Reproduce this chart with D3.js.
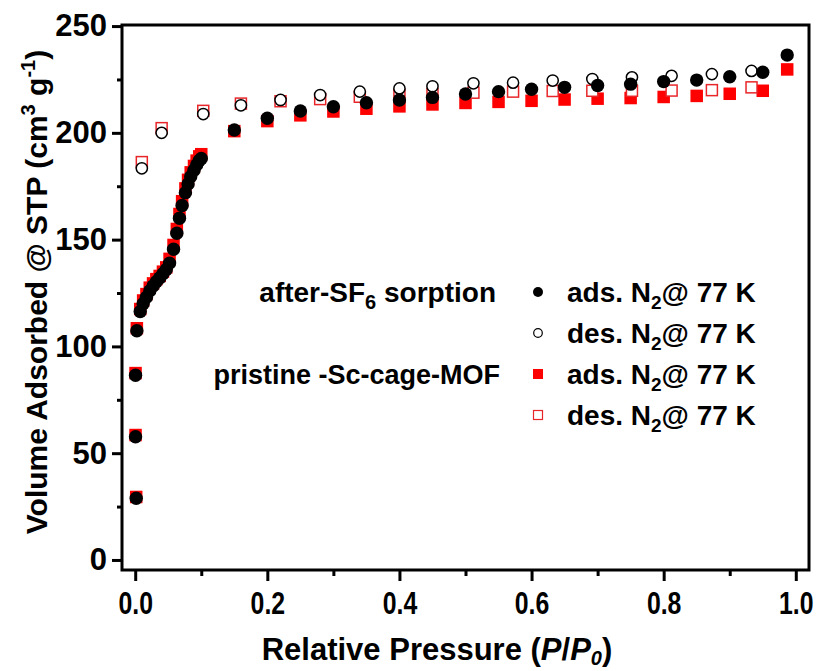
<!DOCTYPE html>
<html>
<head>
<meta charset="utf-8">
<script src="https://cdn.jsdelivr.net/npm/d3@7"></script>
<style>
  body { margin: 0; background: #fff; }
  svg { font-family: "Liberation Sans", Arial, sans-serif; font-weight: bold; }
</style>
</head>
<body>
<svg></svg>
<script>
var width = 818,
    height = 671;

var svg = d3.select("svg")
    .attr("width", width)
    .attr("height", height);

// after-SF6 sorption, adsorption branch (filled black circles)
var afterAdsP = [0.0015, 0.0005, 0.0005, 0.0025, 0.0076, 0.012, 0.017, 0.022, 0.027, 0.032,
                 0.037, 0.042, 0.047, 0.052, 0.058, 0.063, 0.067, 0.071, 0.076, 0.080,
                 0.084, 0.089, 0.093, 0.097, 0.100, 0.15, 0.20, 0.25, 0.30, 0.35,
                 0.40, 0.45, 0.50, 0.55, 0.60, 0.65, 0.70, 0.75, 0.80, 0.85,
                 0.90, 0.95, 0.987];
var afterAdsV = [28.9, 57.7, 86.5, 107.3, 116.3, 120, 123, 126, 128.3, 130.3,
                 132, 134, 136, 139, 145.5, 153, 160, 166, 172, 176,
                 179.5, 182.5, 185, 187, 188, 201.3, 206.8, 210.2, 212.2, 214.1,
                 215.4, 216.6, 218.2, 219.3, 220.4, 221.3, 222.2, 222.8, 224, 224.7,
                 226.3, 228.4, 236.4];

// after-SF6 sorption, desorption branch (open black circles)
var afterDesP = [0.933, 0.873, 0.812, 0.752, 0.692, 0.632, 0.572, 0.512, 0.45, 0.40,
                 0.34, 0.28, 0.22, 0.16, 0.103, 0.04, 0.01];
var afterDesV = [229, 227.5, 226.7, 226, 225.2, 224.5, 223.5, 223.2, 221.8, 220.8,
                 219.3, 217.7, 215.4, 212.9, 208.8, 200, 183.4];

// pristine Sc-cage-MOF, adsorption branch (filled red squares)
var pristAdsP = afterAdsP;
var pristAdsV = [29.5, 58.5, 87.5, 108.5, 117.5, 121.5, 124.5, 127.5, 129.5, 131.5,
                 133, 135, 137, 141, 147.5, 155, 162, 168, 174, 178,
                 181.5, 184.5, 187, 189, 190, 200.8, 205.5, 208.2, 210, 211.3,
                 212.4, 213.3, 214, 214.5, 215, 215.6, 216, 216.3, 216.8, 217.3,
                 218.3, 219.7, 229.7];

// pristine Sc-cage-MOF, desorption branch (open red squares)
var pristDesP = [0.933, 0.873, 0.812, 0.752, 0.692, 0.632, 0.572, 0.512, 0.45, 0.40,
                 0.34, 0.28, 0.22, 0.16, 0.103, 0.04, 0.01];
var pristDesV = [221.3, 220, 219.8, 219.7, 219.7, 219.6, 219.3, 218.8, 218.3, 217.8,
                 216.9, 215.8, 214.8, 213.7, 210.3, 202.2, 186.3];

var xTicks = [0, 0.2, 0.4, 0.6, 0.8, 1.0];
var xMinor = [0.1, 0.3, 0.5, 0.7, 0.9];
var yTicks = [0, 50, 100, 150, 200, 250];
var yMinor = [25, 75, 125, 175, 225];

var plotLeft = 122, plotRight = 809, plotTop = 25, plotBottom = 570;

var x = d3.scaleLinear().domain([-0.02, 1.02]).range([plotLeft, plotRight]);
var y = d3.scaleLinear().domain([-4.7, 250.5]).range([plotBottom, plotTop]);

function zip(ps, vs) {
  return ps.map(function (p, i) { return { p: p, v: vs[i] }; });
}

// frame
svg.append("rect")
    .attr("x", plotLeft).attr("y", plotTop)
    .attr("width", plotRight - plotLeft).attr("height", plotBottom - plotTop)
    .attr("fill", "none").attr("stroke", "#000").attr("stroke-width", 3);

// axes
var gx = svg.append("g")
    .attr("transform", "translate(0," + plotBottom + ")")
    .call(d3.axisBottom(x).tickValues(xTicks).tickSize(11).tickPadding(11)
      .tickFormat(d3.format(".1f")));
svg.append("g")
    .attr("transform", "translate(0," + plotBottom + ")")
    .call(d3.axisBottom(x).tickValues(xMinor).tickSize(6).tickFormat(""));

var gy = svg.append("g")
    .attr("transform", "translate(" + plotLeft + ",0)")
    .call(d3.axisLeft(y).tickValues(yTicks).tickSize(10).tickPadding(5));
svg.append("g")
    .attr("transform", "translate(" + plotLeft + ",0)")
    .call(d3.axisLeft(y).tickValues(yMinor).tickSize(5).tickFormat(""));

svg.selectAll(".domain").remove();
svg.selectAll(".tick line").attr("stroke", "#000").attr("stroke-width", 3);
svg.selectAll(".tick text")
    .attr("fill", "#000")
    .style("font-size", "31px")
    .style("font-family", "'Liberation Sans', Arial, sans-serif")
    .style("font-weight", "bold");
// the x tick labels are drawn narrower in the reference
gx.selectAll(".tick text").attr("transform", "scale(0.8,1)");

// axis titles
var xt = svg.append("text")
    .attr("x", 437).attr("y", 660)
    .attr("text-anchor", "middle")
    .style("font-size", "31px");
xt.append("tspan").text("Relative Pressure (");
xt.append("tspan").style("font-style", "italic").text("P");
xt.append("tspan").text("/");
xt.append("tspan").style("font-style", "italic").text("P");
xt.append("tspan").style("font-style", "italic").style("font-size", "20px")
    .attr("dy", 5).text("0");
xt.append("tspan").attr("dy", -5).text(")");

var yt = svg.append("text")
    .attr("transform", "translate(47,292) rotate(-90)")
    .attr("text-anchor", "middle")
    .style("font-size", "30px");
yt.append("tspan").text("Volume Adsorbed @ STP (cm");
yt.append("tspan").style("font-size", "20px").attr("dy", -12).text("3");
yt.append("tspan").attr("dy", 12).text(" g");
yt.append("tspan").style("font-size", "20px").attr("dy", -12).text("-1");
yt.append("tspan").attr("dy", 12).text(")");

// data marks: red filled squares, red open squares, open circles, filled circles
var sq = 12.5;
svg.append("g").selectAll("rect")
    .data(zip(pristAdsP, pristAdsV))
  .enter().append("rect")
    .attr("x", function(d) { return x(d.p) - sq / 2; })
    .attr("y", function(d) { return y(d.v) - sq / 2; })
    .attr("width", sq).attr("height", sq)
    .attr("fill", "#ff0000");

svg.append("g").selectAll("rect")
    .data(zip(pristDesP, pristDesV))
  .enter().append("rect")
    .attr("x", function(d) { return x(d.p) - (sq - 1.5) / 2; })
    .attr("y", function(d) { return y(d.v) - (sq - 1.5) / 2; })
    .attr("width", sq - 1.5).attr("height", sq - 1.5)
    .attr("fill", "#fff").attr("stroke", "#e8262a").attr("stroke-width", 1.5);

svg.append("g").selectAll("circle")
    .data(zip(afterDesP, afterDesV))
  .enter().append("circle")
    .attr("cx", function(d) { return x(d.p); })
    .attr("cy", function(d) { return y(d.v); })
    .attr("r", 5.6)
    .attr("fill", "#fff").attr("stroke", "#000").attr("stroke-width", 1.5);

svg.append("g").selectAll("circle")
    .data(zip(afterAdsP, afterAdsV))
  .enter().append("circle")
    .attr("cx", function(d) { return x(d.p); })
    .attr("cy", function(d) { return y(d.v); })
    .attr("r", 6.7)
    .attr("fill", "#000");

// legend
var legendRows = [
  { label: "ads.", kind: "adsC" },
  { label: "des.", kind: "desC" },
  { label: "ads.", kind: "adsS" },
  { label: "des.", kind: "desS" }
];
var groupLabels = ["after-SF", "pristine -Sc-cage-MOF"];

var leg = svg.append("g").style("font-size", "28px");
legendRows.forEach(function (r, i) {
  var cy = 292 + i * 41;
  if (r.kind === "adsC") leg.append("circle").attr("cx", 538).attr("cy", cy).attr("r", 5).attr("fill", "#000");
  if (r.kind === "desC") leg.append("circle").attr("cx", 538).attr("cy", cy).attr("r", 4.3)
      .attr("fill", "#fff").attr("stroke", "#000").attr("stroke-width", 1.2);
  if (r.kind === "adsS") leg.append("rect").attr("x", 533).attr("y", cy - 5).attr("width", 10).attr("height", 10).attr("fill", "#ff0000");
  if (r.kind === "desS") leg.append("rect").attr("x", 533.5).attr("y", cy - 4.5).attr("width", 9).attr("height", 9)
      .attr("fill", "#fff").attr("stroke", "#e8262a").attr("stroke-width", 1.2);
  var t = leg.append("text").attr("x", 567).attr("y", cy + 10);
  t.append("tspan").text(r.label + " N");
  t.append("tspan").style("font-size", "19px").attr("dy", 7).text("2");
  t.append("tspan").attr("dy", -7).text("@ 77 K");
});

var g1 = leg.append("text").attr("x", 496).attr("y", 302).attr("text-anchor", "end");
g1.append("tspan").text(groupLabels[0]);
g1.append("tspan").style("font-size", "20px").attr("dy", 7).text("6");
g1.append("tspan").attr("dy", -7).text(" sorption");

leg.append("text").attr("x", 500).attr("y", 384).attr("text-anchor", "end")
    .style("font-size", "27px")
    .text(groupLabels[1]);
</script>
</body>
</html>
